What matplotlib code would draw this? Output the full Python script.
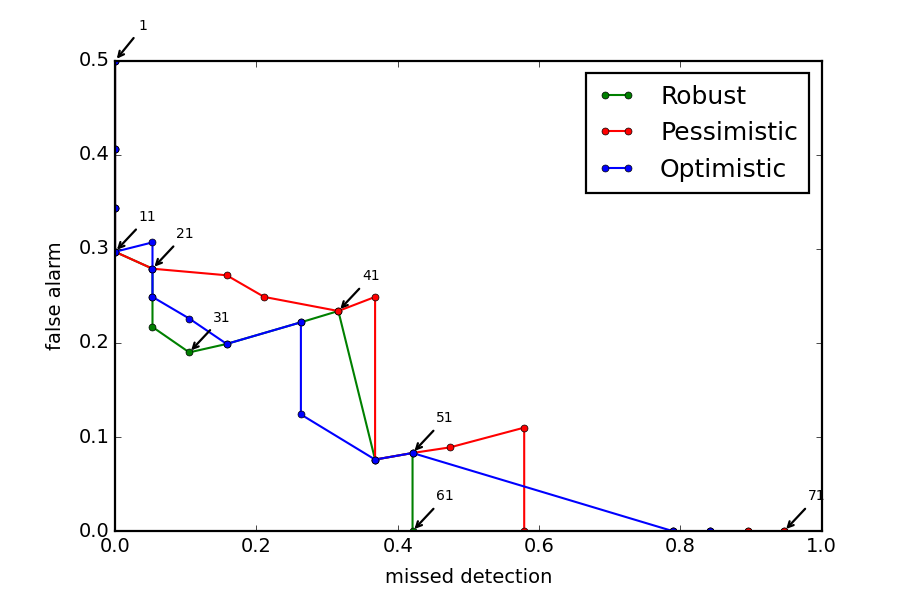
import matplotlib
matplotlib.use('Agg')
import matplotlib.pyplot as plt

plt.style.use('classic')

# robust thresholds
robust_md = [0.0, 0.0, 0.0, 0.0, 0.053, 0.053, 0.053, 0.105, 0.158, 0.263, 0.316, 0.368, 0.421, 0.421, 0.789, 0.842, 0.895, 0.947]
robust_fa = [0.5, 0.406, 0.344, 0.297, 0.279, 0.249, 0.217, 0.19, 0.199, 0.222, 0.234, 0.076, 0.083, 0.0, 0.0, 0.0, 0.0, 0.0]

pess_md = [0.0, 0.0, 0.0, 0.0, 0.053, 0.158, 0.211, 0.316, 0.368, 0.368, 0.421, 0.474, 0.579, 0.579, 0.789, 0.842, 0.895, 0.947]
pess_fa = [0.5, 0.406, 0.344, 0.297, 0.279, 0.272, 0.249, 0.234, 0.249, 0.076, 0.083, 0.089, 0.11, 0.0, 0.0, 0.0, 0.0, 0.0]

opt_md = [0.0, 0.0, 0.0, 0.0, 0.053, 0.053, 0.053, 0.105, 0.158, 0.263, 0.263, 0.368, 0.421, 0.789, 0.842]
opt_fa = [0.5, 0.406, 0.344, 0.297, 0.307, 0.279, 0.249, 0.226, 0.199, 0.222, 0.124, 0.076, 0.083, 0.0, 0.0]

ann_labels = ['1', '11', '21', '31', '41', '51', '61', '71']
ann_md = [0.0, 0.0, 0.053, 0.105, 0.316, 0.421, 0.421, 0.947]
ann_fa = [0.5, 0.297, 0.279, 0.19, 0.234, 0.083, 0.0, 0.0]

fig = plt.figure(figsize=(9.13, 6.09), dpi=100, facecolor='white')
ax = fig.add_subplot(111)
fig.subplots_adjust(left=0.126, right=0.9, top=0.9, bottom=0.128)

ax.plot(robust_md, robust_fa, 'g.-', label='Robust', lw=1.5, ms=10, mec='k', mew=0.5)
ax.plot(pess_md, pess_fa, 'r.-', label='Pessimistic', lw=1.5, ms=10, mec='k', mew=0.5)
ax.plot(opt_md, opt_fa, 'b.-', label='Optimistic', lw=1.5, ms=10, mec='k', mew=0.5)

for lab, x, y in zip(ann_labels, ann_md, ann_fa):
    ax.annotate(lab, xy=(x, y), xytext=(17, 22), textcoords='offset points',
                fontsize=10, arrowprops=dict(arrowstyle='->', lw=1.6, color='k'),
                annotation_clip=False)

ax.set_xlim(0, 1)
ax.set_ylim(0, 0.5)
ax.set_xlabel('missed detection', fontsize=14, labelpad=9)
ax.set_ylabel('false alarm', fontsize=14, labelpad=10)
ax.tick_params(labelsize=14)
for sp in ax.spines.values():
    sp.set_linewidth(1.6)

leg = ax.legend(loc='upper right', numpoints=2, fontsize=18, handlelength=1.5,
                handletextpad=1.0, borderpad=0.45)
leg.get_frame().set_linewidth(1.6)

fig.savefig('out.png', dpi=100, facecolor='white')
